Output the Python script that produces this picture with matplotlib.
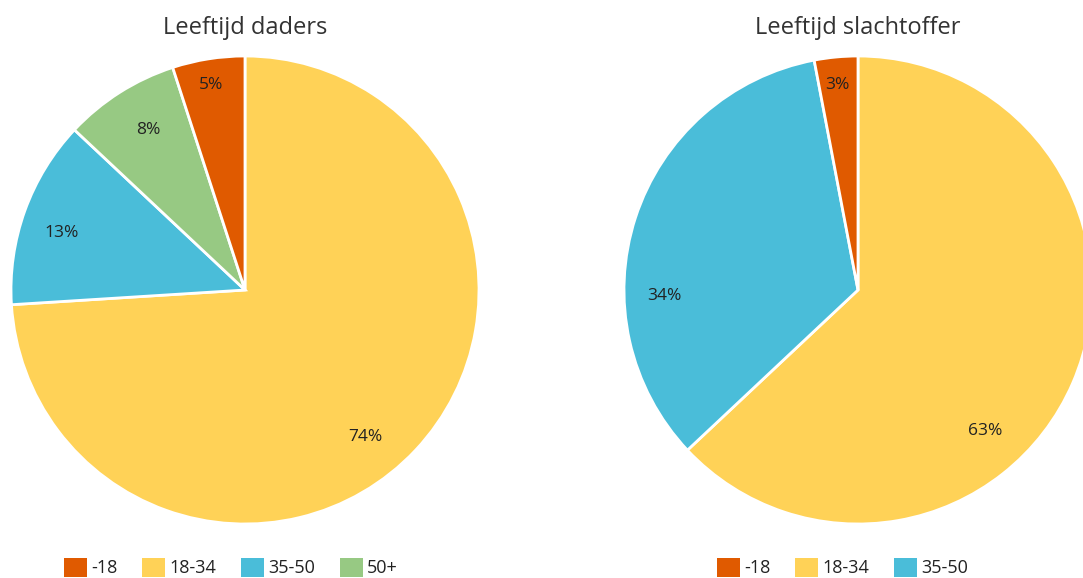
import numpy as np
import matplotlib
matplotlib.use("Agg")
from matplotlib import pyplot as plt
from matplotlib.patches import Patch

plt.rcParams['font.family'] = ['Open Sans', 'DejaVu Sans']

# legend order
categories = ['-18', '18-34', '35-50', '50+']
colors = {'-18': '#E05A00', '18-34': '#FFD257', '35-50': '#4ABDD9', '50+': '#97C983'}

# slice order (clockwise from 12 o'clock) and values
daders_labels = ['18-34', '35-50', '50+', '-18']
daders_values = [74, 13, 8, 5]

slachtoffer_labels = ['18-34', '35-50', '-18']
slachtoffer_values = [63, 34, 3]

# label placement tweaks (angle shift in degrees, distance as fraction of radius)
daders_label_style = [(-7.5, 0.81), (2.5, 0.82), (-1.3, 0.80), (0.3, 0.886)]
slachtoffer_label_style = [(-24.6, 0.81), (19.8, 0.83), (0.4, 0.88)]

W, H = 1083, 578
fig = plt.figure(figsize=(W / 100, H / 100), dpi=100)


def draw_pie(left_px, title, labels, values, label_style, legend_x):
    size = 468
    ax = fig.add_axes([left_px / W, (H - 524) / H, size / W, size / H])
    wedges, _ = ax.pie(
        values,
        colors=[colors[l] for l in labels],
        startangle=90,
        counterclock=False,
        wedgeprops=dict(edgecolor='white', linewidth=2),
    )
    for w, v, (shift, dist) in zip(wedges, values, label_style):
        ang = np.deg2rad((w.theta1 + w.theta2) / 2 + shift)
        ax.text(dist * np.cos(ang), dist * np.sin(ang), '%d%%' % v,
                ha='center', va='center', fontsize=12.5, color='#222222')
    ax.set_xlim(-1, 1)
    ax.set_ylim(-1, 1)
    ax.set_aspect('equal')
    fig.text((left_px + size / 2) / W, 1 - 28 / H, title, ha='center', va='center',
             fontsize=17, color='#333333')
    cats = [c for c in categories if c in labels]
    handles = [Patch(facecolor=colors[c], edgecolor='none') for c in cats]
    fig.legend(handles, cats, loc='lower left', bbox_to_anchor=(legend_x / W, -0.011),
               ncol=len(cats), frameon=False, fontsize=13, handlelength=1.25,
               handleheight=1.25, handletextpad=0.25, columnspacing=1.38,
               labelcolor='#222222', borderaxespad=0)


draw_pie(11, 'Leeftijd daders', daders_labels, daders_values, daders_label_style, 57)
draw_pie(624, 'Leeftijd slachtoffer', slachtoffer_labels, slachtoffer_values,
         slachtoffer_label_style, 710)

fig.savefig('out.png', dpi=100)
